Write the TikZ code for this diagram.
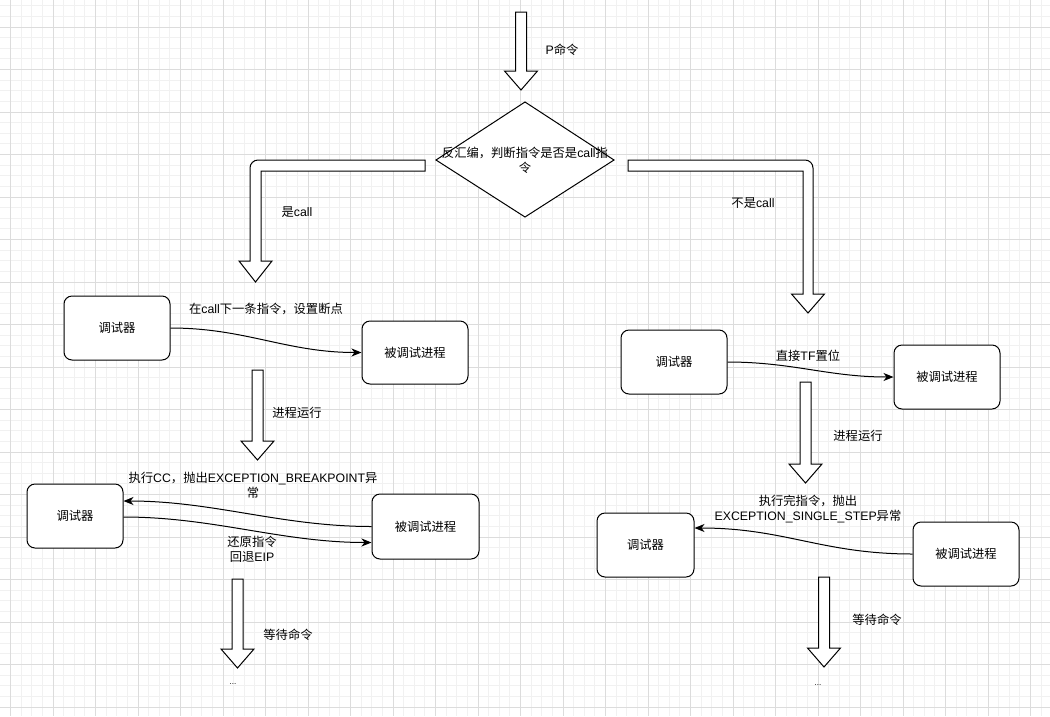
\documentclass[tikz,border=0pt]{standalone}
\usepackage{fontspec}
\setmainfont{Liberation Sans}
\newfontfamily\cjk{Noto Sans CJK SC}
\usetikzlibrary{positioning,arrows.meta,calc}

\definecolor{minorgrid}{HTML}{F1F1F1}
\definecolor{majorgrid}{HTML}{DCDCDC}

\tikzset{
  box/.style={draw, rounded corners=8pt, fill=white, line width=1pt, inner sep=0pt,
    minimum width=106pt, minimum height=64pt},
  lbl/.style={align=center, inner sep=0pt},
  blk/.style={draw, fill=white, line width=1pt},
  link/.style={-{Stealth[length=10pt,width=8pt,inset=3pt]}, line width=1pt},
}

% chinese run
\newcommand{\zh}[1]{{\cjk #1}}
% block arrow pointing down: centre x, top y, tip y
\newcommand{\blkarrow}[3]{%
  \draw[blk] (#1-5.5,#2) -- (#1+5.5,#2) -- (#1+5.5,#3-19) -- (#1+16.5,#3-19)
    -- (#1,#3) -- (#1-16.5,#3-19) -- (#1-5.5,#3-19) -- cycle;}

\begin{document}
\begin{tikzpicture}[x=1pt, y=-1pt, font=\fontsize{12.3}{15}\selectfont]
\useasboundingbox (0,0) rectangle (1050,716);

% background grid
\fill[white] (0,0) rectangle (1050,716);
\foreach \i in {0,...,99}
  \draw[minorgrid, line width=0.8pt] ({-0.125+\i*10.625},0) -- ({-0.125+\i*10.625},716);
\foreach \i in {0,...,67}
  \draw[minorgrid, line width=0.8pt] (0,{5.75+\i*10.625}) -- (1050,{5.75+\i*10.625});
\foreach \i in {0,...,24}
  \draw[majorgrid, line width=0.8pt] ({10.5+\i*42.5},0) -- ({10.5+\i*42.5},716);
\foreach \i in {0,...,16}
  \draw[majorgrid, line width=0.8pt] (0,{27+\i*42.5}) -- (1050,{27+\i*42.5});

% top
\blkarrow{521}{12}{90}
\node[lbl] (pcmd) at (562,50) {P\zh{命令}};
\draw[line width=1pt, fill=white] (525,102) -- (614,160) -- (525,217) -- (436,160) -- cycle;
\node[lbl] (judge) at (525,160) {\zh{反汇编，判断指令是否是}call\zh{指}\\\zh{令}};

% branches
\draw[blk] (425,160) -- (425,171) -- (261,171) -- (261,261) -- (272,261) -- (255.5,282)
  -- (239,261) -- (250,261) -- (250,200) [rounded corners=8] -- (250,160) -- (300,160)
  [sharp corners] -- cycle;
\node[lbl] (yes) at (297,212) {\zh{是}call};
\draw[blk] (628,171) -- (628,160) -- (760,160) [rounded corners=8] -- (813,160) -- (813,220)
  [sharp corners] -- (813,294) -- (824.5,294) -- (808,313) -- (791.5,294) -- (803,294)
  -- (803,171) -- cycle;
\node[lbl] (no) at (753,203) {\zh{不是}call};

% left column
\node[box] (dbg1) at (117,328) {\zh{调试器}};
\node[box, minimum height=63pt] (proc1) at (415,352.5) {\zh{被调试进程}};
\draw[link] (dbg1.east) .. controls +(75,0) and +(-75,0) .. (proc1.west);
\node[lbl] (setbp) at (266,309) {\zh{在}call\zh{下一条指令，设置断点}};

\blkarrow{257.5}{370}{460}
\node[lbl] (run1) at (297,413) {\zh{进程运行}};

\node[box, minimum width=96pt] (dbg2) at (75,516) {\zh{调试器}};
\node[box, minimum width=107pt, minimum height=65pt] (proc2) at (425.5,526.5) {\zh{被调试进程}};
\draw[link] (proc2.west) .. controls +(-90,0) and +(90,0) .. ($(dbg2.east)+(0,-15)$);
\draw[link] ($(dbg2.east)+(0,1)$) .. controls +(90,0) and +(-90,0) .. ($(proc2.west)+(0,16)$);
\node[lbl] (bpexc) at (253,485.5) {\zh{执行}CC\zh{，抛出}EXCEPTION\_BREAKPOINT\zh{异}\\\zh{常}};
\node[lbl] (restore) at (252,549) {\zh{还原指令}\\\zh{回退}EIP};

\blkarrow{237.5}{579}{668}
\node[lbl] (wait1) at (288,635) {\zh{等待命令}};
\node[lbl, font=\fontsize{8}{10}\selectfont] (more1) at (233,684) {...};

% right column
\node[box] (dbg3) at (674,362) {\zh{调试器}};
\node[box] (proc3) at (947,377) {\zh{被调试进程}};
\draw[link] (dbg3.east) .. controls +(65,0) and +(-65,0) .. (proc3.west);
\node[lbl] (settf) at (808,356) {\zh{直接}TF\zh{置位}};

\blkarrow{805.5}{382}{483}
\node[lbl] (run2) at (858,436) {\zh{进程运行}};

\node[box, minimum width=97pt] (dbg4) at (645.5,545) {\zh{调试器}};
\node[box] (proc4) at (966,554) {\zh{被调试进程}};
\draw[link] (proc4.west) .. controls +(-90,0) and +(90,0) .. ($(dbg4.east)+(0,-17)$);
\node[lbl] (ssexc) at (808,509) {\zh{执行完指令，抛出}\\EXCEPTION\_SINGLE\_STEP\zh{异常}};

\blkarrow{824}{577}{667}
\node[lbl] (wait2) at (877,620) {\zh{等待命令}};
\node[lbl, font=\fontsize{8}{10}\selectfont] (more2) at (818,685) {...};

\end{tikzpicture}
\end{document}
